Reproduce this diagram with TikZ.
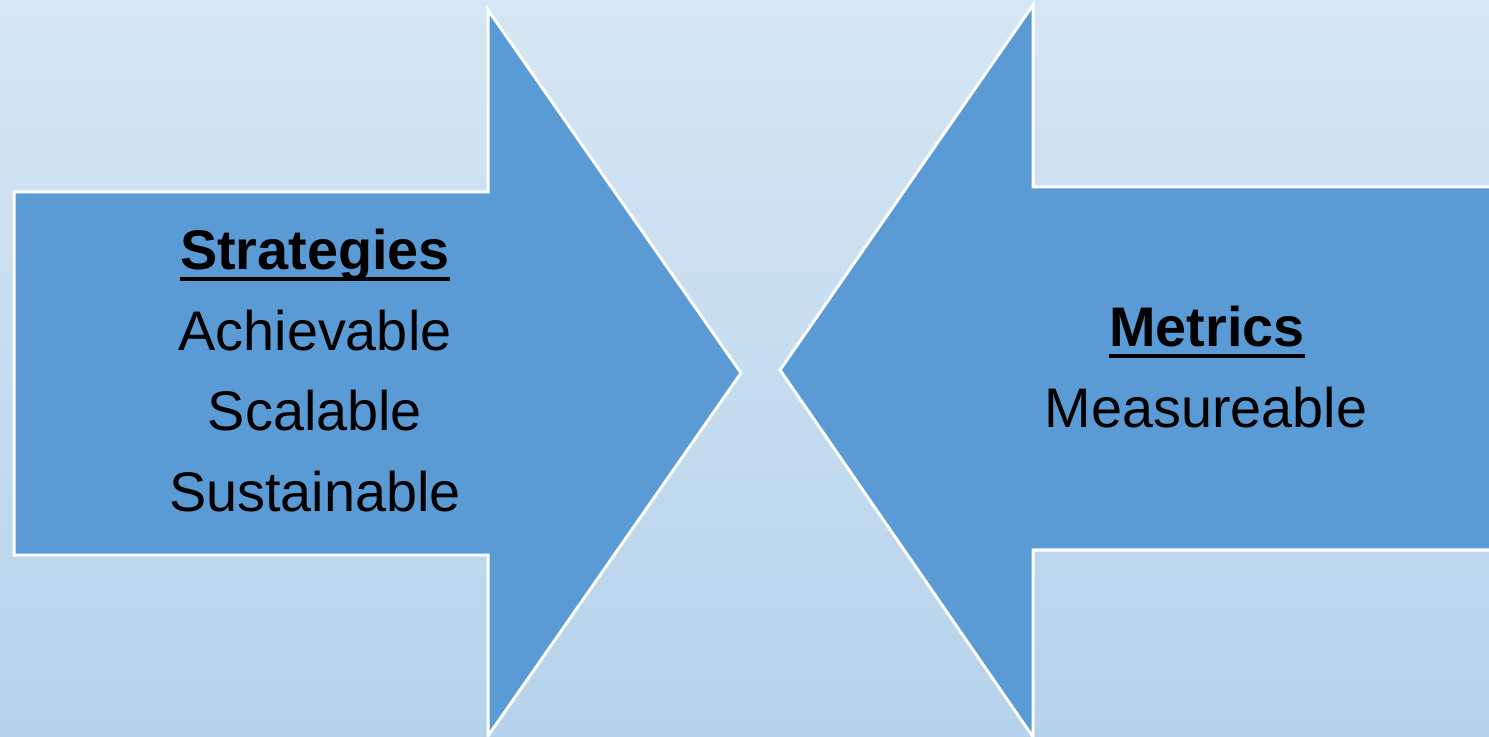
\documentclass[tikz,border=0pt]{standalone}
\usepackage{fontspec}
\setmainfont{Liberation Sans}
\definecolor{bgtop}{RGB}{214,230,244}
\definecolor{bgbot}{RGB}{182,210,235}
\definecolor{arrowfill}{RGB}{91,155,213}
\begin{document}
\begin{tikzpicture}[x=0.5pt,y=-0.5pt,
  bigarrow/.style={fill=arrowfill,draw=white,line width=1.5pt,line join=miter},
  txt/.style={inner sep=0pt,anchor=base,font=\fontsize{27.9pt}{33pt}\selectfont},
  head/.style={txt,font=\fontsize{27.9pt}{33pt}\selectfont\bfseries},
  uline/.style={line width=2pt}]
\useasboundingbox (0,0) rectangle (1489,737);
\shade[top color=bgtop,bottom color=bgbot] (0,0) rectangle (1489,737);
\clip (0,0) rectangle (1489,737);
% left arrow
\draw[bigarrow] (14,192) -- (488,192) -- (488,10) -- (741,373) -- (488,736) -- (488,555) -- (14,555) -- cycle;
% right arrow
\draw[bigarrow] (1500,187) -- (1033,187) -- (1033,5) -- (780,370) -- (1033,737) -- (1033,550) -- (1500,550);
% left text
\node[head] (s1) at (315,270) {Strategies};
\node[txt] (s2) at (315,351) {Achievable};
\node[txt] (s3) at (315,431) {Scalable};
\node[txt] (s4) at (315,511) {Sustainable};
\draw[uline] ([yshift=-4.5pt]s1.base west) -- ([yshift=-4.5pt]s1.base east);
% right text
\node[head] (m1) at (1207,347) {Metrics};
\node[txt] (m2) at (1206,428) {Measureable};
\draw[uline] ([yshift=-4.5pt]m1.base west) -- ([yshift=-4.5pt]m1.base east);
\end{tikzpicture}
\end{document}
